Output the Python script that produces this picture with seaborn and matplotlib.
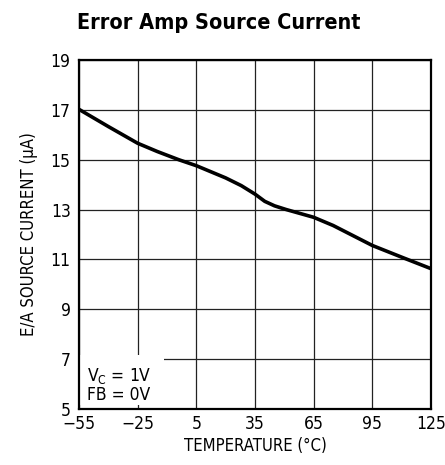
import matplotlib
matplotlib.use("Agg")
import matplotlib.pyplot as plt
from matplotlib.patches import Rectangle
import seaborn as sns
import pandas as pd

temps = [-55, -40, -25, -15, -4, 5, 20, 28, 35, 40, 45, 51, 65, 75, 95, 111, 125]
current = [17.02, 16.33, 15.66, 15.33, 15.0, 14.76, 14.27, 13.96, 13.62, 13.33, 13.15, 13.0, 12.69, 12.36, 11.56, 11.06, 10.63]
xticks = [-55, -25, 5, 35, 65, 95, 125]
xtick_labels = ["\u221255", "\u221225", "5", "35", "65", "95", "125"]
yticks = [5, 7, 9, 11, 13, 15, 17, 19]

sns.set_style("white")
plt.rcParams["font.family"] = ["DejaVu Sans"]
plt.rcParams["font.stretch"] = "condensed"
plt.rcParams["mathtext.fontset"] = "custom"
plt.rcParams["mathtext.rm"] = "DejaVu Sans:stretch=condensed"

df = pd.DataFrame({"temp": temps, "current": current})

fig = plt.figure(figsize=(4.45, 4.65), dpi=100)
ax = fig.add_axes([0.1775, 0.1204, 0.791, 0.7506])

ax.grid(True, color="#222222", linewidth=0.9)
sns.lineplot(data=df, x="temp", y="current", color="black", linewidth=2.6, ax=ax, zorder=3)

ax.set_xlim(-55, 125)
ax.set_ylim(5, 19)
ax.set_xticks(xticks)
ax.set_xticklabels(xtick_labels)
ax.set_yticks(yticks)
ax.tick_params(length=0, labelsize=12.5, pad=4, colors="black")
ax.tick_params(axis="y", pad=6)
for s in ax.spines.values():
    s.set_color("black")
    s.set_linewidth(1.6)

ax.set_xlabel("TEMPERATURE (\u00b0C)", fontsize=12, labelpad=3, color="black")
ax.set_ylabel("E/A SOURCE CURRENT (\u00b5A)", fontsize=12, labelpad=9, color="black")

# white patch that hides the grid behind the condition note
ax.add_patch(Rectangle((-55, 5.18), 43.5, 1.97, facecolor="white", edgecolor="none", zorder=2.5))
ax.text(-51, 5.2, "V$_\\mathregular{C}$ = 1V\nFB = 0V", fontsize=12.5, ha="left", va="bottom",
        linespacing=1.0, zorder=4, color="black")

fig.text(0.173, 0.95, "Error Amp Source Current", fontsize=15.5, fontweight="bold",
         ha="left", va="center", color="black")

fig.savefig("out.png", dpi=100)
